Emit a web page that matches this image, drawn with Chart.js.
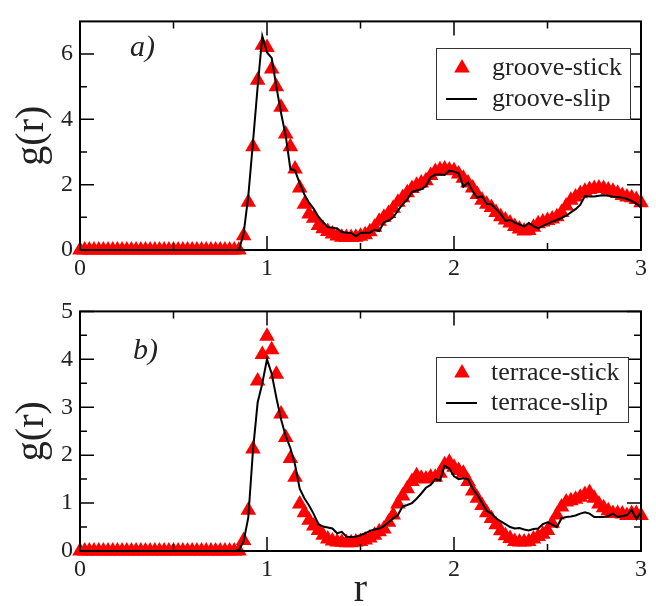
<!DOCTYPE html>
<html><head><meta charset="utf-8">
<script src="https://cdn.jsdelivr.net/npm/chart.js@4.4.1/dist/chart.umd.min.js"></script>
<style>
html,body{margin:0;padding:0;background:#fff;}
#wrap{position:relative;width:656px;height:606px;background:#fff;}
#c1{position:absolute;left:0;top:0;}
#c2{position:absolute;left:0;top:290px;}
</style></head><body>
<div id="wrap">
<canvas id="c1" width="656" height="290"></canvas>
<canvas id="c2" width="656" height="316"></canvas>
</div>
<script>
// ---- data ----
const r = [0,0.025,0.05,0.075,0.1,0.125,0.15,0.175,0.2,0.225,0.25,0.275,0.3,0.325,0.35,0.375,0.4,0.425,0.45,0.475,
0.5,0.525,0.55,0.575,0.6,0.625,0.65,0.675,0.7,0.725,0.75,0.775,0.8,0.825,0.85,0.875,0.9,0.925,0.95,0.975,
1.0,1.025,1.05,1.075,1.1,1.125,1.15,1.175,1.2,1.225,1.25,1.275,1.3,1.325,1.35,1.375,1.4,1.425,1.45,1.475,
1.5,1.525,1.55,1.575,1.6,1.625,1.65,1.675,1.7,1.725,1.75,1.775,1.8,1.825,1.85,1.875,1.9,1.925,1.95,1.975,
2.0,2.025,2.05,2.075,2.1,2.125,2.15,2.175,2.2,2.225,2.25,2.275,2.3,2.325,2.35,2.375,2.4,2.425,2.45,2.475,
2.5,2.525,2.55,2.575,2.6,2.625,2.65,2.675,2.7,2.725,2.75,2.775,2.8,2.825,2.85,2.875,2.9,2.925,2.95,2.975,3.0];

const grooveStick = [0,0,0,0,0,0,0,0,0,0,0,0,0,0,0,0,0,0,0,0,0,0,0,0,0,0,0,0,0,0,0,0,0,0,0,
0.44,1.46,3.16,5.2,6.27,6.2,5.54,5.0,4.37,3.55,
3.16,2.48,1.9,1.4,1.1,0.97,0.75,0.65,0.57,0.49,
0.43,0.39,0.38,0.38,0.39,0.42,0.47,0.56,0.7,0.88,
1.0,1.12,1.28,1.46,1.6,1.75,1.88,1.98,2.05,2.12,
2.28,2.4,2.46,2.48,2.45,2.43,2.33,2.2,2.05,1.9,
1.7,1.52,1.4,1.3,1.15,1.02,0.92,0.83,0.72,0.64,
0.58,0.6,0.7,0.8,0.86,0.9,0.95,1.02,1.15,1.35,
1.52,1.62,1.72,1.8,1.85,1.88,1.9,1.88,1.84,1.8,
1.74,1.67,1.62,1.6,1.55,1.45];

const grooveSlip = [0,0,0,0,0,0,0,0,0,0,0,0,0,0,0,0,0,0,0,0,0,0,0,0,0,0,0,0,0,0,0,0,0,0,0,
0.5,1.65,3.3,5.0,6.55,6.05,5.88,5.0,4.2,3.5,
2.48,2.43,2.04,1.7,1.45,1.26,1.02,0.85,0.7,0.68,
0.66,0.55,0.53,0.52,0.42,0.52,0.53,0.53,0.62,0.58,
0.85,0.9,1.0,1.21,1.4,1.55,1.78,1.82,1.86,1.96,
2.23,2.31,2.31,2.3,2.43,2.4,2.35,1.94,2.07,1.8,
1.6,1.65,1.41,1.4,1.25,1.1,0.89,0.92,0.84,0.78,
0.72,0.83,0.73,0.66,0.74,0.8,0.87,0.92,0.98,1.05,
1.15,1.25,1.38,1.65,1.64,1.64,1.66,1.68,1.66,1.63,
1.62,1.6,1.56,1.5,1.42,1.3];

const terraceStick = [0,0,0,0,0,0,0,0,0,0,0,0,0,0,0,0,0,0,0,0,0,0,0,0,0,0,0,0,0,0,0,0,0,0,0,
0.22,0.85,2.13,3.55,4.1,4.48,4.2,3.69,2.86,2.37,
1.93,1.54,0.98,0.8,0.64,0.52,0.43,0.33,0.25,0.21,
0.19,0.18,0.17,0.17,0.19,0.2,0.23,0.27,0.33,0.4,
0.46,0.6,0.75,0.98,1.15,1.3,1.45,1.57,1.52,1.5,
1.54,1.54,1.62,1.8,1.85,1.75,1.68,1.62,1.45,1.25,
1.1,0.95,0.8,0.68,0.55,0.42,0.32,0.26,0.2,0.19,
0.19,0.2,0.25,0.3,0.35,0.43,0.58,0.75,0.92,1.02,
1.05,1.08,1.12,1.18,1.22,1.1,0.98,0.9,0.84,0.78,
0.78,0.77,0.74,0.78,0.78,0.74];

const terraceSlip = [0,0,0,0,0,0,0,0,0,0,0,0,0,0,0,0,0,0,0,0,0,0,0,0,0,0,0,0,0,0,0,0,0,0,0.02,
0.2,0.7,2.1,3.1,3.5,4.0,3.7,3.2,2.75,2.4,
2.15,1.8,1.3,1.1,0.95,0.77,0.56,0.51,0.49,0.47,
0.37,0.4,0.3,0.29,0.3,0.33,0.37,0.42,0.45,0.47,
0.52,0.6,0.68,0.75,0.93,0.96,1.0,1.09,1.2,1.32,
1.38,1.5,1.47,1.78,1.72,1.56,1.5,1.52,1.5,1.3,
1.17,1.0,0.84,0.78,0.68,0.62,0.56,0.5,0.47,0.48,
0.45,0.43,0.46,0.47,0.56,0.6,0.55,0.5,0.68,0.71,
0.72,0.74,0.78,0.81,0.78,0.71,0.71,0.71,0.73,0.78,
0.71,0.73,0.75,0.86,0.67,0.82];

const xTicks = [0,1,2,3];
const xMinorTicks = [0.5,1.5,2.5];
const yTicksTop = [0,2,4,6];
const yMinorTop = [1,3,5];
const yTicksBottom = [0,1,2,3,4,5];
const yMinorBottom = [0.5,1.5,2.5,3.5,4.5];
const labelsTop = ['groove-stick','groove-slip'];
const labelsBottom = ['terrace-stick','terrace-slip'];

// ---- drawing ----
const SERIF = "'Liberation Serif','Times New Roman',serif";
const INK = '#222';

const pts = (vals) => r.map((x, i) => ({x: x, y: vals[i]}));

function drawTri(ctx, x, y, rad) {
  ctx.beginPath();
  let a = 0;
  for (let i = 0; i < 3; i++) {
    const px = x + Math.sin(a) * rad, py = y - Math.cos(a) * rad;
    if (i === 0) ctx.moveTo(px, py); else ctx.lineTo(px, py);
    a += 2 * Math.PI / 3;
  }
  ctx.closePath();
  ctx.fill();
}

const framePlugin = {
  id: 'frameTicks',
  afterDatasetsDraw(chart, args, o) {
    const {ctx, chartArea: a, scales} = chart;
    const xs = scales.x, ys = scales.y;
    ctx.save();
    ctx.strokeStyle = '#000';
    ctx.lineWidth = 1.5;
    const major = 14, minor = 7;
    ctx.beginPath();
    const tx = (v, len) => { const p = xs.getPixelForValue(v);
      ctx.moveTo(p, a.bottom); ctx.lineTo(p, a.bottom - len);
      ctx.moveTo(p, a.top); ctx.lineTo(p, a.top + len); };
    const ty = (v, len) => { const p = ys.getPixelForValue(v);
      ctx.moveTo(a.left, p); ctx.lineTo(a.left + len, p);
      ctx.moveTo(a.right, p); ctx.lineTo(a.right - len, p); };
    o.xMajor.forEach(v => tx(v, major));
    o.xMinor.forEach(v => tx(v, minor));
    o.yMajor.forEach(v => ty(v, major));
    o.yMinor.forEach(v => ty(v, minor));
    ctx.stroke();
    ctx.lineWidth = 2;
    ctx.strokeRect(a.left, a.top, a.right - a.left, a.bottom - a.top);
    // panel label
    ctx.fillStyle = INK;
    ctx.font = 'italic 30px ' + SERIF;
    ctx.textBaseline = 'middle';
    ctx.textAlign = 'left';
    ctx.fillText(o.panel, o.panelX, o.panelY);
    // legend box
    const L = o.legend;
    ctx.fillStyle = '#fff';
    ctx.fillRect(L.x, L.y, L.w, L.h);
    ctx.lineWidth = 1;
    ctx.strokeStyle = '#333';
    ctx.strokeRect(L.x + 0.5, L.y + 0.5, L.w, L.h);
    const ds = chart.data.datasets;
    const tri = ds.find(d => d.pointStyle === 'triangle');
    const line = ds.find(d => d.pointStyle !== 'triangle');
    ctx.fillStyle = tri.backgroundColor;
    drawTri(ctx, L.symX, L.row1, tri.pointRadius);
    ctx.strokeStyle = line.borderColor;
    ctx.lineWidth = line.borderWidth;
    ctx.beginPath();
    ctx.moveTo(L.symX - 16, L.row2); ctx.lineTo(L.symX + 15, L.row2);
    ctx.stroke();
    ctx.fillStyle = INK;
    ctx.font = L.font + 'px ' + SERIF;
    ctx.textBaseline = 'middle';
    ctx.fillText(tri.label, L.textX, L.row1);
    ctx.fillText(line.label, L.textX, L.row2);
    ctx.restore();
  }
};

function makeChart(id, cfg) {
  return new Chart(document.getElementById(id), {
    type: 'scatter',
    data: {
      datasets: [
        { label: cfg.labels[1], data: pts(cfg.slip), showLine: true, borderColor: '#000',
          borderWidth: 2, pointRadius: 0, pointStyle: 'circle', order: 0, tension: 0, clip: false },
        { label: cfg.labels[0], data: pts(cfg.stick), showLine: false, pointStyle: 'triangle',
          pointRadius: 9, backgroundColor: '#ff0000', borderWidth: 0, order: 1, clip: false }
      ]
    },
    options: {
      responsive: false,
      animation: false,
      events: [],
      layout: { padding: { top: cfg.padTop, right: 15, left: 0, bottom: 0 } },
      plugins: {
        legend: { display: false }, tooltip: { enabled: false },
        frameTicks: { xMajor: xTicks, xMinor: xMinorTicks, yMajor: cfg.yMajor, yMinor: cfg.yMinor,
          panel: cfg.panel, panelX: cfg.panelX, panelY: cfg.panelY, legend: cfg.legend }
      },
      scales: {
        x: {
          type: 'linear', min: 0, max: 3,
          afterFit: s => { s.height = cfg.xHeight; },
          afterBuildTicks: s => { s.ticks = xTicks.map(v => ({value: v})); },
          grid: { display: false, drawTicks: false },
          border: { display: false },
          ticks: { font: { family: SERIF, size: 24 }, color: INK, padding: 4, maxRotation: 0 },
          title: cfg.xTitle ? { display: true, text: 'r', color: INK,
            font: { family: SERIF, size: 40, lineHeight: 0.8 }, padding: { top: 0, bottom: 0 } } : { display: false }
        },
        y: {
          type: 'linear', min: 0, max: cfg.yMax,
          afterFit: s => { s.width = 80; },
          afterBuildTicks: s => { s.ticks = cfg.yMajor.map(v => ({value: v})); },
          grid: { display: false, drawTicks: false },
          border: { display: false },
          ticks: { font: { family: SERIF, size: 24 }, color: INK, padding: 7 },
          title: { display: true, text: 'g(r)', color: INK,
            font: { family: SERIF, size: 40, lineHeight: 1 }, padding: { top: 12, bottom: 0 } }
        }
      }
    },
    plugins: [framePlugin]
  });
}

makeChart('c1', {
  stick: grooveStick, slip: grooveSlip, labels: labelsTop,
  yMax: 7, yMajor: yTicksTop, yMinor: yMinorTop, padTop: 9, xHeight: 40, xTitle: false,
  panel: 'a)', panelX: 130, panelY: 48,
  legend: { x: 436, y: 48, w: 194, h: 71, symX: 462, textX: 492, row1: 68, row2: 99, font: 26 }
});
makeChart('c2', {
  stick: terraceStick, slip: terraceSlip, labels: labelsBottom,
  yMax: 5, yMajor: yTicksBottom, yMinor: yMinorBottom, padTop: 20, xHeight: 55, xTitle: true,
  panel: 'b)', panelX: 133, panelY: 61,
  legend: { x: 436, y: 67, w: 192, h: 65, symX: 462, textX: 491, row1: 83, row2: 113, font: 26 }
});
</script>
</body></html>
